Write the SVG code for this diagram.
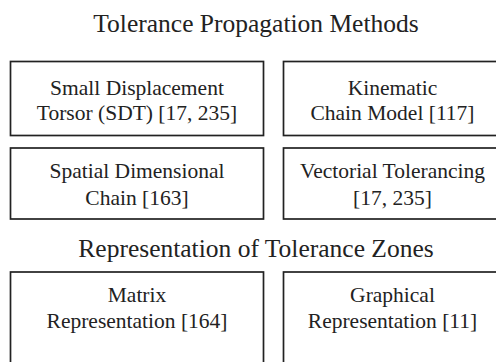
<svg xmlns="http://www.w3.org/2000/svg" width="496" height="362" viewBox="0 0 496 362">
<style>
.box{fill:#fff;stroke:#222;stroke-width:1.7}
.t{font-family:"Liberation Serif","Times New Roman",serif;font-size:21.5px;fill:#222;text-anchor:middle}
.h{font-family:"Liberation Serif","Times New Roman",serif;font-size:25.5px;fill:#222;text-anchor:middle}
</style>
<rect width="496" height="362" fill="#fff"/>
<g id="title1"><text class="h" x="256" y="32">Tolerance Propagation Methods</text></g>
<g id="sdt"><rect class="box" x="10.5" y="61.5" width="253" height="74"/><text class="t" x="137" y="95">Small Displacement</text><text class="t" x="137" y="120">Torsor (SDT) [17, 235]</text></g>
<g id="kcm"><rect class="box" x="283.5" y="61.5" width="220" height="74"/><text class="t" x="392.5" y="95">Kinematic</text><text class="t" x="392.5" y="120">Chain Model [117]</text></g>
<g id="sdc"><rect class="box" x="10.5" y="148" width="253" height="71"/><text class="t" x="137" y="178">Spatial Dimensional</text><text class="t" x="137" y="205">Chain [163]</text></g>
<g id="vt"><rect class="box" x="283.5" y="148" width="220" height="71"/><text class="t" x="392.5" y="178">Vectorial Tolerancing</text><text class="t" x="392.5" y="205">[17, 235]</text></g>
<g id="title2"><text class="h" x="256" y="257">Representation of Tolerance Zones</text></g>
<g id="mr"><rect class="box" x="10.5" y="272" width="253" height="100"/><text class="t" x="137" y="302">Matrix</text><text class="t" x="137" y="328">Representation [164]</text></g>
<g id="gr"><rect class="box" x="283.5" y="272" width="220" height="100"/><text class="t" x="392.5" y="302">Graphical</text><text class="t" x="392.5" y="328">Representation [11]</text></g>
<g id="connectors"></g>
</svg>
